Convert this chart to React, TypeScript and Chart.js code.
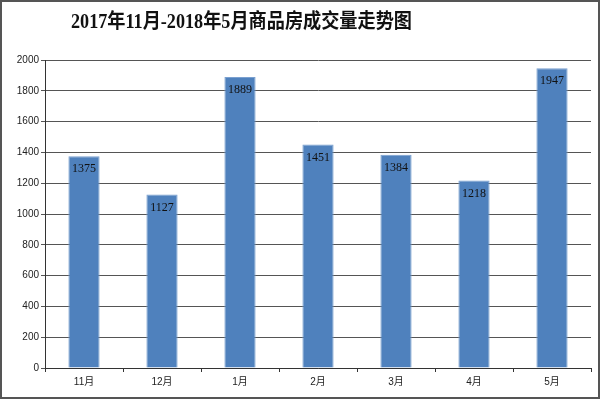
import React, { useEffect, useRef } from "react";
import { Chart, registerables } from "chart.js";

Chart.register(...registerables);

const categories = ["11月", "12月", "1月", "2月", "3月", "4月", "5月"];
const volumes = [1375, 1127, 1889, 1451, 1384, 1218, 1947];
const chartTitle = "2017年11月-2018年5月商品房成交量走势图";

const framePlugin = {
  id: "frame",
  beforeDraw(chart: any) {
    const ctx = chart.ctx;
    ctx.save();
    ctx.fillStyle = "#ffffff";
    ctx.fillRect(0, 0, chart.width, chart.height);
    ctx.restore();
  },
  afterDraw(chart: any) {
    const ctx = chart.ctx;
    ctx.save();
    ctx.strokeStyle = "#555555";
    ctx.lineWidth = 2;
    ctx.strokeRect(1, 1, chart.width - 2, chart.height - 3);
    ctx.fillStyle = "#111111";
    ctx.font = "bold 20px 'Liberation Serif', 'Noto Sans CJK SC', serif";
    ctx.textAlign = "left";
    ctx.textBaseline = "middle";
    const w = ctx.measureText(chartTitle).width;
    const sx = 341 / w;
    ctx.translate(71, 23);
    ctx.scale(sx, 1);
    ctx.fillText(chartTitle, 0, 0);
    ctx.restore();
  },
};

const valueLabels = {
  id: "valueLabels",
  afterDatasetsDraw(chart: any) {
    const ctx = chart.ctx;
    const meta = chart.getDatasetMeta(0);
    ctx.save();
    ctx.fillStyle = "#111111";
    ctx.font = "12px 'Liberation Serif', serif";
    ctx.textAlign = "center";
    ctx.textBaseline = "middle";
    meta.data.forEach((bar: any, i: number) => {
      ctx.fillText(String(chart.data.datasets[0].data[i]), bar.x, bar.y + 13);
    });
    ctx.restore();
  },
};

export default function App() {
  const ref = useRef<HTMLCanvasElement | null>(null);
  useEffect(() => {
    document.body.style.margin = "0";
    const chart = new Chart(ref.current as HTMLCanvasElement, {
      type: "bar",
      data: {
        labels: categories,
        datasets: [
          {
            data: volumes,
            backgroundColor: "#4f81bd",
            borderColor: "#7aa0d0",
            borderWidth: 1,
            categoryPercentage: 1,
            barPercentage: 0.4,
          },
        ],
      },
      options: {
        animation: false,
        responsive: false,
        layout: { padding: { top: 60, right: 9, left: 0, bottom: 0 } },
        plugins: { legend: { display: false }, tooltip: { enabled: false }, title: { display: false } },
        scales: {
          x: {
            offset: true,
            grid: { drawOnChartArea: false, tickLength: 4, color: "#333333", offset: true },
            border: { color: "#333333" },
            ticks: { color: "#222222", font: { size: 10, family: "'Liberation Sans', 'Noto Sans CJK SC', sans-serif" }, padding: 4 },
            afterFit(scale: any) { scale.height = 32; },
          },
          y: {
            min: 0,
            max: 2000,
            ticks: {
              stepSize: 200,
              color: "#222222",
              font: { size: 10, family: "'Liberation Sans', sans-serif" },
              padding: 2,
              callback: (v: any) => String(v),
            },
            grid: { color: "#555555", tickLength: 4 },
            border: { color: "#333333" },
            afterFit(scale: any) { scale.width = 45; },
          },
        },
      },
      plugins: [framePlugin, valueLabels],
    });
    return () => chart.destroy();
  }, []);
  return <canvas ref={ref} width={600} height={400} style={{ display: "block" }} />;
}
